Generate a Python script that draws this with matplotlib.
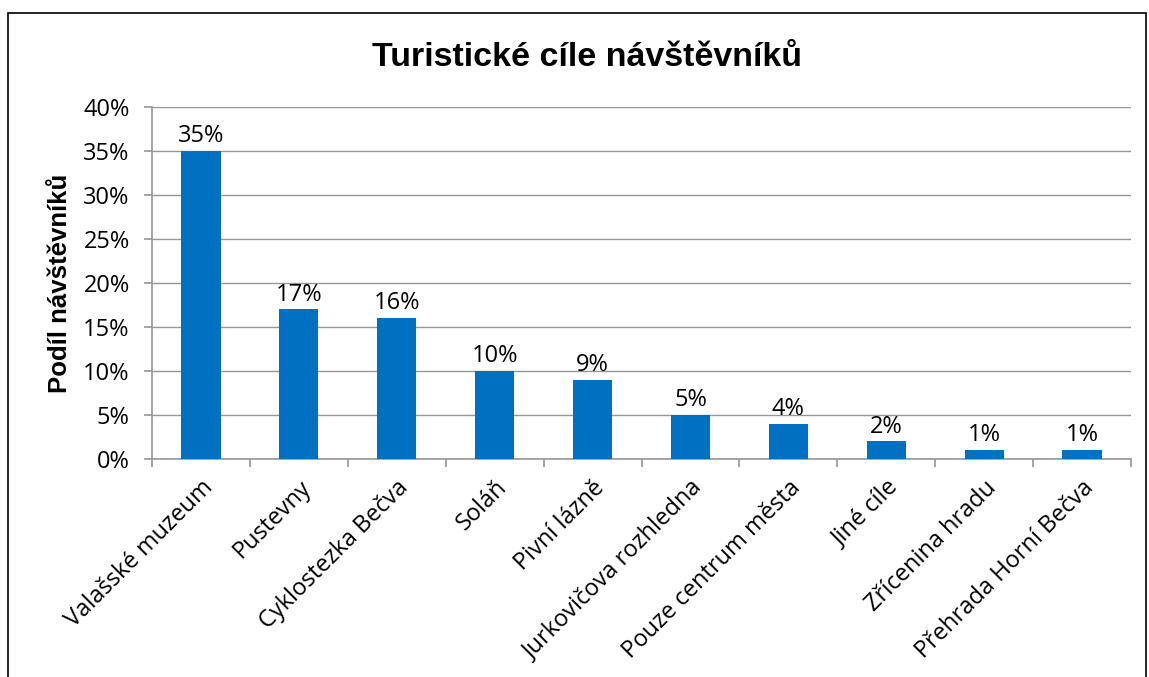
import matplotlib
matplotlib.use("Agg")
import matplotlib.pyplot as plt
from matplotlib.patches import Rectangle
from matplotlib.ticker import FuncFormatter, MultipleLocator

categories = ["Valašské muzeum", "Pustevny", "Cyklostezka Bečva", "Soláň", "Pivní lázně",
              "Jurkovičova rozhledna", "Pouze centrum města", "Jiné cíle", "Zřícenina hradu",
              "Přehrada Horní Bečva"]
values = [35, 17, 16, 10, 9, 5, 4, 2, 1, 1]
title = "Turistické cíle návštěvníků"
ylabel = "Podíl návštěvníků"

W, H = 1149, 677
fig = plt.figure(figsize=(W / 100, H / 100), dpi=100)
fig.patch.set_facecolor("white")
fig.add_artist(Rectangle((8 / W, -0.01), (1146 - 8) / W, 1 - 13 / H + 0.01,
                         transform=fig.transFigure, fill=False, edgecolor="black", lw=1.2))

ax = fig.add_axes([152 / W, 1 - 459 / H, (1131 - 152) / W, (459 - 107) / H])
x = list(range(len(categories)))
ax.bar(x, values, width=0.4, color="#0070C0", zorder=3)
ax.set_xlim(-0.5, len(categories) - 0.5)
ax.set_ylim(0, 40)
ax.yaxis.set_major_locator(MultipleLocator(5))
ax.yaxis.set_major_formatter(FuncFormatter(lambda v, p: f"{int(v)}%"))
ax.grid(axis="y", color="#969696", lw=1, zorder=0)
for s in ["top", "right"]:
    ax.spines[s].set_visible(False)
for s in ["left", "bottom"]:
    ax.spines[s].set_color("#969696")
    ax.spines[s].set_linewidth(1.2)

tickfont = "Open Sans"
fs = 17
ax.set_xticks([i - 0.5 for i in range(len(categories) + 1)], minor=False)
ax.set_xticklabels([])
ax.set_xticks(x, minor=True)
ax.set_xticklabels(categories, minor=True, rotation=45, ha="right", va="top",
                   rotation_mode="anchor", fontsize=fs, family=tickfont)
ax.tick_params(axis="x", which="major", length=6, color="#969696", width=1.2)
ax.tick_params(axis="x", which="minor", length=0, pad=12)
ax.tick_params(axis="y", length=6, color="#969696", width=1.2, labelsize=fs, pad=10)
for lbl in ax.get_yticklabels():
    lbl.set_family(tickfont)

for xi, v in zip(x, values):
    ax.annotate(f"{v}%", (xi, v), xytext=(0, 2), textcoords="offset points",
                ha="center", va="bottom", fontsize=fs, family=tickfont)

ax.set_ylabel(ylabel, fontsize=18.5, fontweight="bold", family="Liberation Sans", labelpad=8)
fig.text(587 / W, 1 - 58 / H, title, ha="center", va="center",
         fontsize=24.5, fontweight="bold", family="Liberation Sans")

fig.savefig("out.png", dpi=100)
